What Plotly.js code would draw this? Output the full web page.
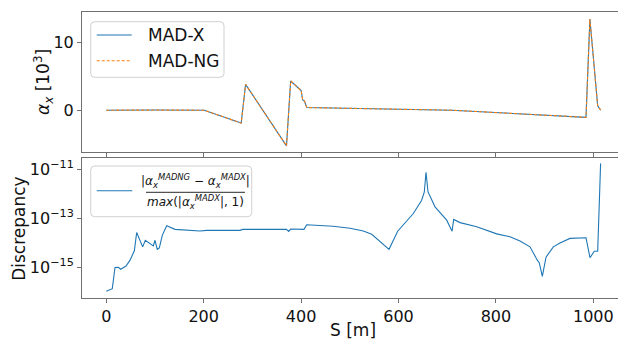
<!DOCTYPE html>
<html>
<head>
<meta charset="utf-8">
<script src="https://cdn.plot.ly/plotly-3.0.1.min.js"></script>
<style>html,body{margin:0;padding:0;background:#fff;}#chart{width:618px;height:339px;}</style>
</head>
<body>
<div id="chart"></div>
<script>
// Top panel: alpha_x [10^3] vs S [m]
var s_top = [0, 46, 100, 201, 277, 286, 370, 378.6, 400, 403.3, 406.7, 411.5, 709, 985, 993, 1009, 1015];
var alfx_madx = [0, 0.05, 0.02, 0, -1.9, 3.8, -5.25, 4.3, 2.9, 1.5, 1.37, 0.39, 0.0, -1.05, 13.4, 0.63, 0.02];
var alfx_madng = [0, 0.05, 0.02, 0, -1.9, 3.8, -5.25, 4.3, 2.9, 1.5, 1.37, 0.39, 0.0, -1.05, 13.4, 0.63, 0.02];

// Bottom panel: relative discrepancy vs S [m]
var s_disc = [0, 12.3, 17.9, 24.7, 29.5, 40.5, 48.7, 57.6, 62.4, 67.8, 74.7, 80.1, 96.5, 100, 104.7, 108.8, 115, 124, 141, 192.4, 206, 274.5, 280, 370, 374.5, 378.6, 406, 411.5, 438.8, 466, 500.4, 527.8, 545, 580.5, 598.3, 630.4, 647.6, 653, 656.5, 660.6, 675, 699, 710, 713.3, 726.3, 760.6, 801.6, 829, 849.5, 870, 885, 889, 895.3, 902.9, 917.9, 931.6, 952.1, 985, 993.2, 1002, 1009, 1015];
var disc = [1.05e-16, 1.35e-16, 9.8e-16, 1.0e-15, 8.3e-16, 1.12e-15, 1.95e-15, 4.7e-15, 2.6e-14, 1.5e-14, 6.8e-15, 1.26e-14, 7.4e-15, 1.26e-14, 5.4e-15, 6.2e-15, 2.0e-14, 4.9e-14, 3.5e-14, 3.0e-14, 3.2e-14, 3.2e-14, 3.5e-14, 3.5e-14, 2.9e-14, 3.6e-14, 3.5e-14, 5.4e-14, 5.0e-14, 4.7e-14, 3.9e-14, 3.0e-14, 2.2e-14, 5.4e-15, 2.95e-14, 1.55e-13, 5.4e-13, 1.17e-12, 7.4e-12, 1.17e-12, 2.9e-13, 8.3e-14, 2.95e-14, 8.9e-14, 6.6e-14, 4.5e-14, 2.3e-14, 1.74e-14, 1.17e-14, 6.8e-15, 1.95e-15, 1.55e-15, 4.3e-16, 2.6e-15, 6.8e-15, 9.8e-15, 1.5e-14, 1.6e-14, 2.45e-15, 4.5e-15, 4.5e-15, 1.7e-11];

var x_ticks = [0, 200, 400, 600, 800, 1000];
var top_y_ticks = [0, 10];
var disc_ticks = [1e-11, 1e-13, 1e-15];
var disc_tick_text = ['10<sup>\u221211</sup>', '10<sup>\u221213</sup>', '10<sup>\u221215</sup>'];

var BLUE = '#1f77b4', ORANGE = '#ff7f0e', SPINE = '#707070';
var FONT = 'DejaVu Sans, sans-serif';

var traces = [
  {x: s_top, y: alfx_madx, xaxis: 'x', yaxis: 'y', mode: 'lines', name: 'MAD-X',
   line: {color: BLUE, width: 1.1}, showlegend: false, hoverinfo: 'skip'},
  {x: s_top, y: alfx_madng, xaxis: 'x', yaxis: 'y', mode: 'lines', name: 'MAD-NG',
   line: {color: ORANGE, width: 1.1, dash: '3px,2px'}, showlegend: false, hoverinfo: 'skip'},
  {x: s_disc, y: disc, xaxis: 'x2', yaxis: 'y2', mode: 'lines', name: 'discrepancy',
   line: {color: BLUE, width: 1.1}, showlegend: false, hoverinfo: 'skip'}
];

// pixel -> paper helpers (plot area: x 82..618, y 12..298)
function PX(p){ return (p - 82) / 536; }
function PY(p){ return (298 - p) / 286; }
function roundRect(x0, y0, x1, y1, r){
  var rx = r / 536, ry = r / 286;
  var a = PX(x0), b = PX(x1), t = PY(y0), u = PY(y1);
  return 'M' + (a+rx) + ',' + t + ' L' + (b-rx) + ',' + t + ' Q' + b + ',' + t + ' ' + b + ',' + (t-ry) +
         ' L' + b + ',' + (u+ry) + ' Q' + b + ',' + u + ' ' + (b-rx) + ',' + u +
         ' L' + (a+rx) + ',' + u + ' Q' + a + ',' + u + ' ' + a + ',' + (u+ry) +
         ' L' + a + ',' + (t-ry) + ' Q' + a + ',' + t + ' ' + (a+rx) + ',' + t + ' Z';
}

var shapes = [
  {type: 'path', xref: 'paper', yref: 'paper', path: roundRect(90.7, 21.7, 224, 77.3, 4),
   fillcolor: 'rgba(255,255,255,0.8)', line: {color: '#d0d0d0', width: 1}},
  {type: 'line', xref: 'paper', yref: 'paper', x0: PX(96.7), x1: PX(131.7), y0: PY(35), y1: PY(35),
   line: {color: BLUE, width: 1.1}},
  {type: 'line', xref: 'paper', yref: 'paper', x0: PX(96.7), x1: PX(131.7), y0: PY(60.7), y1: PY(60.7),
   line: {color: ORANGE, width: 1.1, dash: '3px,2px'}},
  {type: 'path', xref: 'paper', yref: 'paper', path: roundRect(90.7, 166, 251.7, 216.7, 4),
   fillcolor: 'rgba(255,255,255,0.8)', line: {color: '#d0d0d0', width: 1}},
  {type: 'line', xref: 'paper', yref: 'paper', x0: PX(96.7), x1: PX(132.3), y0: PY(190.7), y1: PY(190.7),
   line: {color: BLUE, width: 1.1}},
  {type: 'line', xref: 'paper', yref: 'paper', x0: PX(146), x1: PX(245), y0: PY(192.3), y1: PY(192.3),
   line: {color: '#111', width: 0.9}}
];

var annotations = [
  {xref: 'paper', yref: 'paper', x: PX(146), y: PY(35), xanchor: 'left', yanchor: 'middle',
   text: 'MAD-X', showarrow: false, font: {family: FONT, size: 17, color: '#111'}},
  {xref: 'paper', yref: 'paper', x: PX(146), y: PY(60.7), xanchor: 'left', yanchor: 'middle',
   text: 'MAD-NG', showarrow: false, font: {family: FONT, size: 17, color: '#111'}},
  {xref: 'paper', yref: 'paper', x: PX(195.5), y: PY(181), xanchor: 'center', yanchor: 'middle',
   text: '|<i>α</i><sub><i>x</i></sub><sup><i>MADNG</i></sup> − <i>α</i><sub><i>x</i></sub><sup><i>MADX</i></sup>|',
   showarrow: false, font: {family: FONT, size: 12, color: '#111'}},
  {xref: 'paper', yref: 'paper', x: PX(195.5), y: PY(202), xanchor: 'center', yanchor: 'middle',
   text: '<i>max</i>(|<i>α</i><sub><i>x</i></sub><sup><i>MADX</i></sup>|, 1)',
   showarrow: false, font: {family: FONT, size: 12, color: '#111'}},
  // axis titles
  {xref: 'paper', yref: 'paper', x: PX(43), y: PY(82), xanchor: 'center', yanchor: 'middle', textangle: -90,
   text: '<i>α</i><sub><i>x</i></sub> [10<sup>3</sup>]', showarrow: false, font: {family: FONT, size: 17, color: '#111'}},
  {xref: 'paper', yref: 'paper', x: PX(18.8), y: PY(229), xanchor: 'center', yanchor: 'middle', textangle: -90,
   text: 'Discrepancy', showarrow: false, font: {family: FONT, size: 17, color: '#111'}},
  {xref: 'paper', yref: 'paper', x: PX(353), y: PY(330.5), xanchor: 'center', yanchor: 'middle',
   text: 'S [m]', showarrow: false, font: {family: FONT, size: 17, color: '#111'}}
];

var axisCommon = {showgrid: false, zeroline: false, showline: true, linecolor: SPINE, linewidth: 1,
  ticks: 'outside', ticklen: 4, tickwidth: 1, tickcolor: SPINE};

var layout = {
  width: 618, height: 339,
  margin: {l: 82, r: 0, t: 12, b: 41},
  paper_bgcolor: '#fff', plot_bgcolor: '#fff',
  font: {family: FONT, color: '#111'},
  showlegend: false,
  xaxis: Object.assign({}, axisCommon, {domain: [0, 1], anchor: 'y', range: [-49.9, 1050.7],
    tickmode: 'array', tickvals: x_ticks, showticklabels: false, mirror: true}),
  yaxis: Object.assign({}, axisCommon, {domain: [0.5105, 1], anchor: 'x', range: [-6.15, 14.45],
    tickmode: 'array', tickvals: top_y_ticks, tickfont: {size: 16, family: FONT}}),
  xaxis2: Object.assign({}, axisCommon, {domain: [0, 1], anchor: 'y2', matches: 'x', range: [-49.9, 1050.7],
    tickmode: 'array', tickvals: x_ticks, tickfont: {size: 16, family: FONT}, mirror: true}),
  yaxis2: Object.assign({}, axisCommon, {domain: [0, 0.4895], anchor: 'x2', type: 'log', range: [-16.25, -10.55],
    tickmode: 'array', tickvals: disc_ticks, ticktext: disc_tick_text, tickfont: {size: 16, family: FONT}}),
  shapes: shapes,
  annotations: annotations
};

Plotly.newPlot('chart', traces, layout, {staticPlot: true, displayModeBar: false});
</script>
</body>
</html>
